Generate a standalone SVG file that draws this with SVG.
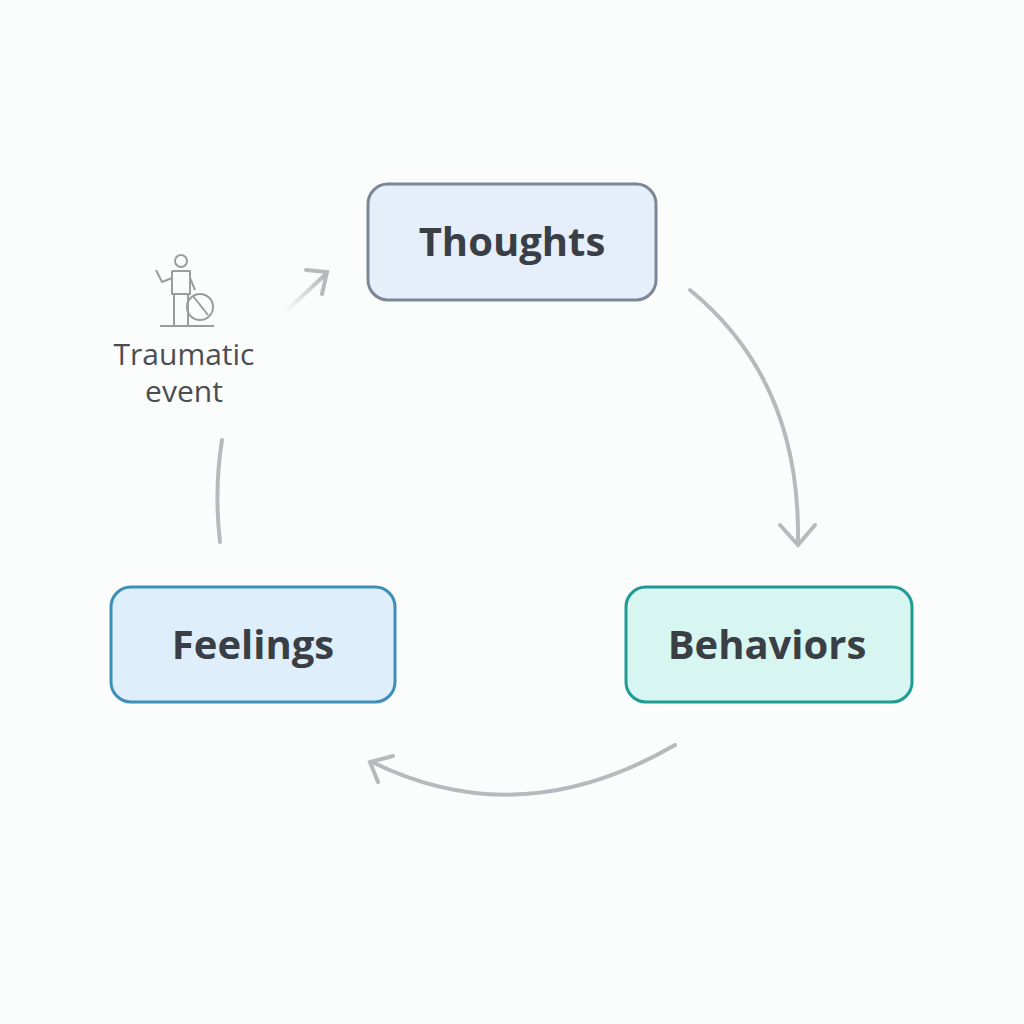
<svg xmlns="http://www.w3.org/2000/svg" width="1024" height="1024" viewBox="0 0 1024 1024">
<defs>
<style>
.box{stroke-width:3}
.lbl{font-family:"Open Sans","Liberation Sans",sans-serif;font-weight:700;font-size:40px;fill:#3a3f45;text-anchor:middle}
.sm{font-family:"Open Sans","Liberation Sans",sans-serif;font-size:30px;fill:#4a4e52;text-anchor:middle}
.c{fill:none;stroke:#b7babc;stroke-width:4;stroke-linecap:round}
.ic{fill:none;stroke:#9a9c9e;stroke-width:2}
</style>
<linearGradient id="fade" x1="0" y1="1" x2="1" y2="0"><stop offset="0" stop-color="#b7babc" stop-opacity="0"/><stop offset="1" stop-color="#b0b3b5"/></linearGradient>
</defs>
<rect width="1024" height="1024" fill="#fbfcfc"/>
<g id="connectors">
<path class="c" d="M690 290 Q800 380 798 540"/>
<path class="c" d="M780 525 L798 545 L815 525"/>
<path class="c" d="M675 745 Q520 835 372 762"/>
<path class="c" d="M393 756 L370 762 L378 782"/>
<path class="c" d="M222 440 Q214 490 220 542"/>
<path d="M285 312 L326 274" fill="none" stroke="url(#fade)" stroke-width="4" stroke-linecap="round"/>
<path class="c" d="M306 270 L327 272 L322 294"/>
</g>
<g id="thoughts"><rect class="box" x="368" y="184" width="288" height="116" rx="20" fill="#e6eef9" stroke="#7b8796"/><text class="lbl" x="512" y="256">Thoughts</text></g>
<g id="feelings"><rect class="box" x="111" y="587" width="284" height="115" rx="20" fill="#dfeefb" stroke="#3d8fb8"/><text class="lbl" x="253" y="659">Feelings</text></g>
<g id="behaviors"><rect class="box" x="626" y="587" width="286" height="115" rx="20" fill="#d8f6f1" stroke="#1f9a94"/><text class="lbl" x="767" y="659">Behaviors</text></g>
<g id="traumatic">
<circle class="ic" cx="181" cy="261" r="6"/>
<path class="ic" d="M160 326 H214 M174 326 V294 M188 326 V294 M172 271 H190 V294 H172 V271 M172 278 L162 282 L156 270 M190 278 L195 290"/>
<circle class="ic" cx="200" cy="307" r="13"/>
<path class="ic" d="M193 296 L208 315"/>
<text class="sm" x="184" y="365">Traumatic</text>
<text class="sm" x="184" y="402">event</text>
</g>
</svg>
